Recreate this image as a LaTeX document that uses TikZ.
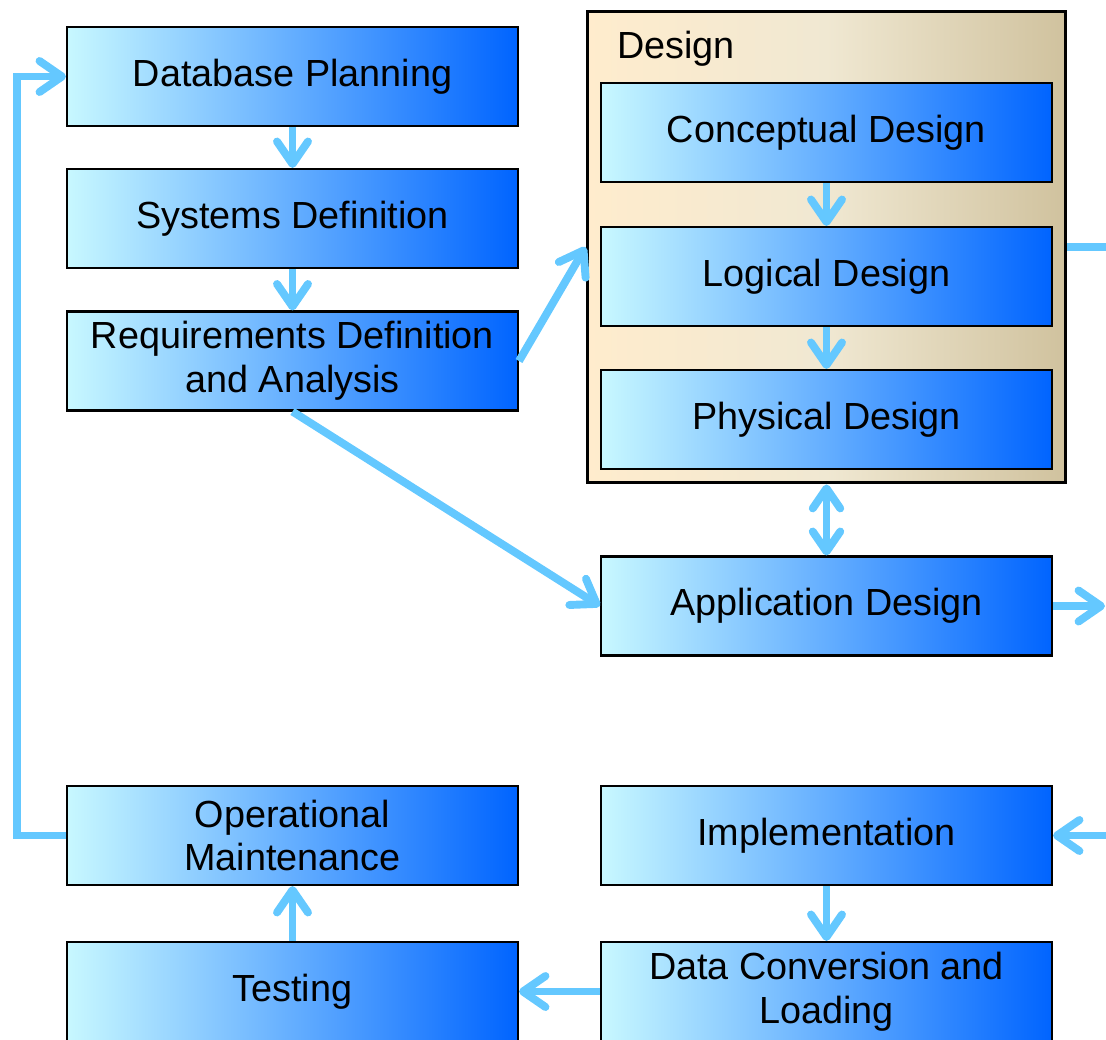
\documentclass[tikz,border=0pt]{standalone}
\usepackage{fontspec}
\setmainfont{Liberation Sans}
\usetikzlibrary{arrows.meta}
\definecolor{flowblue}{RGB}{100,200,255}
\definecolor{boxleft}{RGB}{200,248,255}
\definecolor{boxright}{RGB}{0,100,255}
\definecolor{sandleft}{RGB}{255,236,205}
\definecolor{sandmid}{RGB}{240,232,210}
\definecolor{sandright}{RGB}{208,194,158}
\begin{document}
\begin{tikzpicture}[x=0.02cm,y=-0.02cm,
        stage/.style={draw=black,line width=1.2pt,left color=boxleft,right color=boxright,
                      minimum width=9.02cm,minimum height=1.98cm,align=center,inner sep=0pt,
                      font=\fontsize{21.5}{25}\selectfont},
        flow/.style={draw=flowblue,line width=4.5pt,
                     -{Straight Barb[length=0.45cm,width=0.62cm,round]}}]
        \useasboundingbox (0,0) rectangle (1106,1039);
        % design group behind the three design stages
        \node[draw=black,line width=1.7pt,left color=sandleft,right color=sandright,middle color=sandmid,
              minimum width=9.58cm,minimum height=9.44cm,inner sep=0pt] (design) at (826.5,247) {};
        \node[anchor=base west,font=\fontsize{21.5}{25}\selectfont] (designlabel) at (611,58) {Design};
        \begin{scope}[every node/.style={stage}]
        \node (dbp) at (292.5,76.5) {Database Planning};
        \node (sysdef) at (292.5,218.5) {Systems Definition};
        \node (req) at (292.5,361) {Requirements Definition\\and Analysis};
        \node (opm) at (292.5,835.5) {Operational\\Maintenance};
        \node (test) at (292.5,991.5) {Testing};
        \node (concept) at (826.5,132.5) {Conceptual Design};
        \node (logical) at (826.5,276.5) {Logical Design};
        \node (physical) at (826.5,419.5) {Physical Design};
        \node (app) at (826.5,606) {Application Design};
        \node (impl) at (826.5,835.5) {Implementation};
        \node (dcl) at (826.5,991.5) {Data Conversion and\\Loading};
        \end{scope}
        \coordinate (loop) at (17,0);
        \coordinate (rail) at (1111,0);
        \coordinate (appout) at (1105,606);
        \begin{scope}[every edge/.style={flow}]
        \path (dbp) edge (sysdef)
              (sysdef) edge (req)
              (req.east) edge (design.west)
              (req.south) edge (app.west)
              (concept) edge (logical)
              (logical) edge (physical)
              (design.south) edge[{Straight Barb[length=0.4cm,width=0.55cm,round]}-{Straight Barb[length=0.4cm,width=0.55cm,round]}] (app.north)
              (app.east) edge (appout)
              (impl) edge (dcl)
              (dcl) edge (test)
              (test) edge (opm);
        \end{scope}
        % feedback loops
        \draw[flow] (opm.west) -- (opm.west -| loop) |- (dbp.west);
        \draw[flow] (design.east) -- (rail |- design.east) |- (impl.east);
\end{tikzpicture}
\end{document}
